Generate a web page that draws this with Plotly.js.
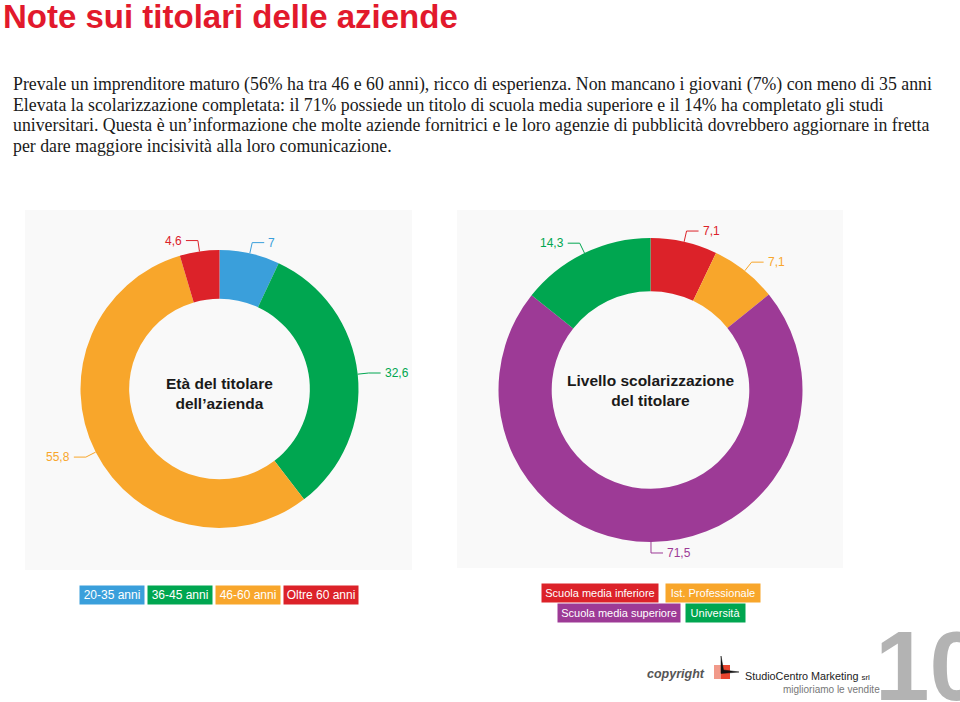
<!DOCTYPE html>
<html>
<head>
<meta charset="utf-8">
<script src="https://cdn.plot.ly/plotly-3.0.1.min.js"></script>
<style>html,body{margin:0;padding:0;background:#fff;}#chart{width:960px;height:702px;}</style>
</head>
<body>
<div id="chart"></div>
<script>
// ---- Data ----
const ageLabels = ["20-35 anni", "36-45 anni", "46-60 anni", "Oltre 60 anni"];
const ageValues = [7, 32.6, 55.8, 4.6];
const ageColors = ["#3a9fdb", "#00a650", "#f8a62b", "#dc2229"];

const eduLabels = ["Scuola media inferiore", "Ist. Professionale", "Scuola media superiore", "Università"];
const eduValues = [7.1, 7.1, 71.5, 14.3];
const eduColors = ["#dc2229", "#f8a62b", "#9d3a96", "#00a650"];

const titleText = "Note sui titolari delle aziende";
const bodyLines = [
  "Prevale un imprenditore maturo (56% ha tra 46 e 60 anni), ricco di esperienza. Non mancano i giovani (7%) con meno di 35 anni",
  "Elevata la scolarizzazione completata: il 71% possiede un titolo di scuola media superiore e il 14% ha completato gli studi",
  "universitari. Questa è un’informazione che molte aziende fornitrici e le loro agenzie di pubblicità dovrebbero aggiornare in fretta",
  "per dare maggiore incisività alla loro comunicazione."
];
const ageCenter = "Età del titolare<br>dell’azienda";
const eduCenter = "Livello scolarizzazione<br>del titolare";

// ---- Layout helpers ----
const W = 960, H = 702;
const px = x => x / W;
const py = y => 1 - y / H;
const SANS = "'Liberation Sans', Arial, sans-serif";
const SERIF = "'Liberation Serif', 'DejaVu Serif', serif";

const donuts = [
  {values: ageValues, colors: ageColors, labels: ageLabels, cx: 219.5, cy: 389, r: 139, center: ageCenter, textY: 393},
  {values: eduValues, colors: eduColors, labels: eduLabels, cx: 650.5, cy: 390, r: 152, center: eduCenter, textY: 390}
];

const data = [];
const shapes = [];
const annotations = [];

// panel backgrounds
[[25, 210, 412, 570], [457, 210, 843, 568]].forEach(b => {
  shapes.push({type: "rect", xref: "paper", yref: "paper", x0: px(b[0]), x1: px(b[2]), y0: py(b[3]), y1: py(b[1]),
    fillcolor: "#f9f9f9", line: {width: 0}, layer: "below"});
});

donuts.forEach(d => {
  data.push({
    type: "pie", values: d.values, labels: d.labels, sort: false, direction: "clockwise", rotation: 0,
    hole: 0.65, textinfo: "none", hoverinfo: "none", showlegend: false,
    marker: {colors: d.colors, line: {width: 0}},
    domain: {x: [px(d.cx - d.r), px(d.cx + d.r)], y: [py(d.cy + d.r), py(d.cy - d.r)]}
  });
  // leader lines + value labels derived from the data
  const total = d.values.reduce((a, b) => a + b, 0);
  let cum = 0;
  d.values.forEach((v, i) => {
    const mid = (cum + v / 2) / total * 2 * Math.PI;
    cum += v;
    const s = Math.sin(mid), c = Math.cos(mid);
    const ax = d.cx + d.r * s, ay = d.cy - d.r * c;
    const ex = d.cx + (d.r + 11) * s, ey = d.cy - (d.r + 11) * c;
    const side = s >= -0.01 ? 1 : -1;
    const hx = ex + side * 12;
    shapes.push({type: "path", xref: "paper", yref: "paper",
      path: `M ${px(ax)} ${py(ay)} L ${px(ex)} ${py(ey)} L ${px(hx)} ${py(ey)}`,
      line: {color: d.colors[i], width: 1}});
    annotations.push({xref: "paper", yref: "paper", x: px(hx + side * 2), y: py(ey),
      xanchor: side > 0 ? "left" : "right", yanchor: "middle", showarrow: false,
      text: String(v).replace(".", ","), font: {family: SANS, size: 12, color: d.colors[i]}});
  });
  annotations.push({xref: "paper", yref: "paper", x: px(d.cx), y: py(d.textY), xanchor: "center", yanchor: "middle",
    showarrow: false, text: "<b>" + d.center + "</b>", align: "center",
    font: {family: SANS, size: 15.5, color: "#1a1a1a"}});
});

// title and body text
annotations.push({xref: "paper", yref: "paper", x: px(1), y: py(17), xanchor: "left", yanchor: "middle", showarrow: false,
  text: "<b>" + titleText + "</b>", font: {family: SANS, size: 33, color: "#e2192c"}});
const bodyY = [84, 105, 125, 146];
bodyLines.forEach((t, i) => {
  annotations.push({xref: "paper", yref: "paper", x: px(11), y: py(bodyY[i]), xanchor: "left", yanchor: "middle",
    showarrow: false, text: t, font: {family: SERIF, size: 17.8, color: "#1a1a1a"}});
});

// legend boxes (layout positions only)
const ageBoxes = [[80, 586, 144, 604], [148, 586, 212, 604], [216, 586, 280, 604], [284, 586, 358, 604]];
const eduBoxes = [[542, 584, 658, 602], [666, 584, 760, 602], [558, 604, 680, 622], [686, 604, 745, 622]];
function legendBoxes(labels, colors, boxes, size) {
  labels.forEach((l, i) => {
    const b = boxes[i];
    annotations.push({xref: "paper", yref: "paper", x: px((b[0] + b[2]) / 2), y: py((b[1] + b[3]) / 2),
      xanchor: "center", yanchor: "middle", showarrow: false, text: l,
      width: b[2] - b[0], height: b[3] - b[1], bgcolor: colors[i], borderpad: 0,
      font: {family: SANS, size: size, color: "#ffffff"}});
  });
}
legendBoxes(ageLabels, ageColors, ageBoxes, 12);
legendBoxes(eduLabels, eduColors, eduBoxes, 11);

// footer
annotations.push({xref: "paper", yref: "paper", x: px(645), y: py(674), xanchor: "left", yanchor: "middle", showarrow: false,
  text: "<i><b>copyright</b></i>", font: {family: SANS, size: 12.5, color: "#555555"}});
shapes.push({type: "rect", xref: "paper", yref: "paper", x0: px(714), x1: px(730), y0: py(679), y1: py(665),
  fillcolor: "#e8452f", line: {width: 0}});
shapes.push({type: "rect", xref: "paper", yref: "paper", x0: px(714), x1: px(721), y0: py(679), y1: py(665),
  fillcolor: "#f19a8a", line: {width: 0}});
shapes.push({type: "path", xref: "paper", yref: "paper",
  path: `M ${px(721)} ${py(656)} L ${px(723.5)} ${py(670)} L ${px(739)} ${py(672)} L ${px(721)} ${py(673.5)} Z`,
  fillcolor: "#111111", line: {width: 0.5, color: "#111111"}});
annotations.push({xref: "paper", yref: "paper", x: px(743), y: py(676), xanchor: "left", yanchor: "middle", showarrow: false,
  text: "StudioCentro Marketing <span style='font-size:8px'>srl</span>", font: {family: SANS, size: 10.8, color: "#222222"}});
annotations.push({xref: "paper", yref: "paper", x: px(882), y: py(689), xanchor: "right", yanchor: "middle", showarrow: false,
  text: "miglioriamo le vendite", font: {family: SANS, size: 10, color: "#777777"}});
annotations.push({xref: "paper", yref: "paper", x: px(873), y: py(666), xanchor: "left", yanchor: "middle", showarrow: false,
  text: "<b>10</b>", font: {family: SANS, size: 98, color: "#b3b3b3"}});

Plotly.newPlot("chart", data, {
  width: W, height: H, margin: {l: 0, r: 0, t: 0, b: 0},
  paper_bgcolor: "#ffffff", plot_bgcolor: "#ffffff",
  shapes: shapes, annotations: annotations,
  xaxis: {visible: false}, yaxis: {visible: false}
}, {displayModeBar: false, staticPlot: true});
</script>
</body>
</html>
